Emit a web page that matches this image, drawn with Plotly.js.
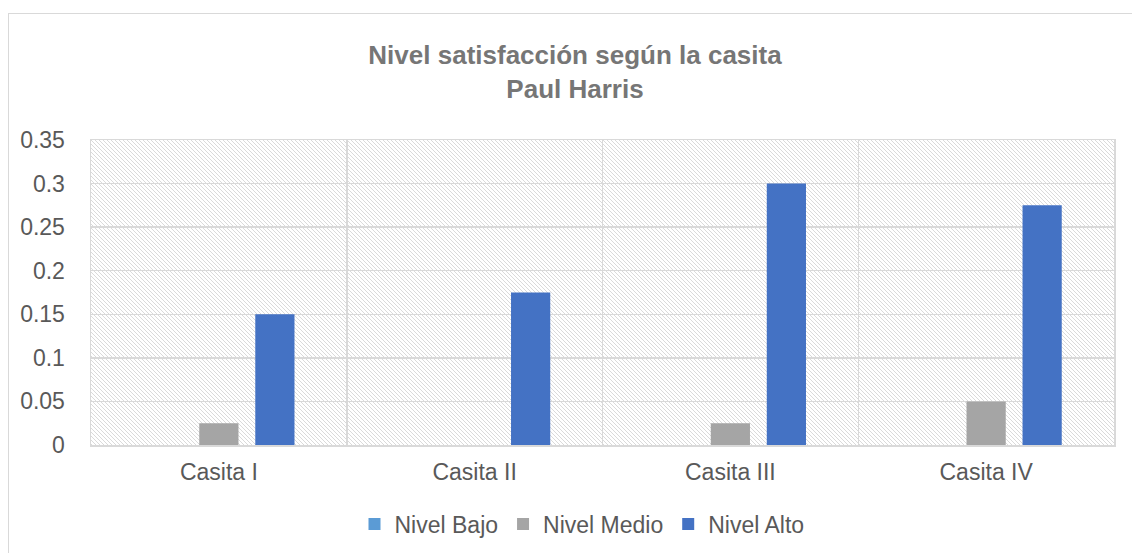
<!DOCTYPE html>
<html>
<head>
<meta charset="utf-8">
<script src="https://cdn.plot.ly/plotly-3.0.1.min.js"></script>
<style>
  html, body { margin: 0; padding: 0; background: #ffffff; }
  #wrap { position: relative; width: 1132px; height: 553px; overflow: hidden; }
  #frame { position: absolute; left: 8px; top: 13px; width: 1140px; height: 560px;
           border: 1.5px solid #d9d9d9; box-sizing: border-box; }
  #hatch { position: absolute; left: 91px; top: 140px; width: 1023px; height: 305px;
           background-image: url("data:image/svg+xml;utf8,<svg xmlns='http://www.w3.org/2000/svg' width='4' height='4'><rect width='4' height='4' fill='white'/><path d='M-1,-1 L5,5 M-1,3 L1,5 M3,-1 L5,1' stroke='%23dadada' stroke-width='1'/></svg>");
           background-size: 4px 4px; }
  #chart { position: absolute; left: 0; top: 0; width: 1132px; height: 553px; }
</style>
</head>
<body>
<div id="wrap">
  <div id="frame"></div>
  <div id="hatch"></div>
  <div id="chart"></div>
</div>
<script>
const categories = ["Casita I", "Casita II", "Casita III", "Casita IV"];
const nivelBajo  = [0, 0, 0, 0];
const nivelMedio = [0.025, 0, 0.025, 0.05];
const nivelAlto  = [0.15, 0.175, 0.3, 0.275];
const yTicks = [0, 0.05, 0.1, 0.15, 0.2, 0.25, 0.3, 0.35];
const yTickLabels = ["0", "0.05", "0.1", "0.15", "0.2", "0.25", "0.3", "0.35"];

const font = "Liberation Sans, Arial, sans-serif";
const traces = [
  { type: "bar", name: "Nivel Bajo", x: categories, y: nivelBajo, marker: { color: "#5B9BD5" } },
  { type: "bar", name: "Nivel Medio", x: categories, y: nivelMedio, marker: { color: "#A5A5A5" } },
  { type: "bar", name: "Nivel Alto", x: categories, y: nivelAlto, marker: { color: "#4472C4" } }
];

const layout = {
  width: 1132, height: 553,
  paper_bgcolor: "rgba(0,0,0,0)",
  plot_bgcolor: "rgba(0,0,0,0)",
  margin: { l: 91, r: 18, t: 140, b: 108 },
  barmode: "group",
  bargap: 0.343,
  bargroupgap: 0.3,
  title: {
    text: "Nivel satisfacción según la casita<br>Paul Harris",
    font: { family: font, size: 26, color: "#767676", weight: "bold" },
    x: 575 / 1132, xref: "container", xanchor: "center",
    y: 1 - 64 / 553, yref: "container", yanchor: "top"
  },
  xaxis: {
    type: "category",
    showgrid: true, gridcolor: "#d9d9d9", gridwidth: 1.5,
    tickson: "boundaries", ticks: "",
    showline: true, linecolor: "#d9d9d9", linewidth: 1.5, mirror: true,
    tickfont: { family: font, size: 23, color: "#595959" },
    ticklabelstandoff: 6,
    zeroline: false
  },
  yaxis: {
    range: [0, 0.35],
    tickvals: yTicks, ticktext: yTickLabels,
    showgrid: true, gridcolor: "#d9d9d9", gridwidth: 1.5,
    showline: true, linecolor: "#d9d9d9", linewidth: 1.5, mirror: true,
    zeroline: false, ticks: "",
    tickfont: { family: font, size: 23, color: "#595959" },
    ticklabelstandoff: 20
  },
  showlegend: true,
  legend: {
    orientation: "h",
    x: 582 / 1132, xref: "container", xanchor: "center",
    y: 1 - 524 / 553, yref: "container", yanchor: "middle",
    font: { family: font, size: 23, color: "#595959" },
    itemwidth: 30, tracegroupgap: 0,
    bgcolor: "rgba(0,0,0,0)"
  }
};

Plotly.newPlot("chart", traces, layout, { displayModeBar: false, staticPlot: true });
</script>
</body>
</html>
